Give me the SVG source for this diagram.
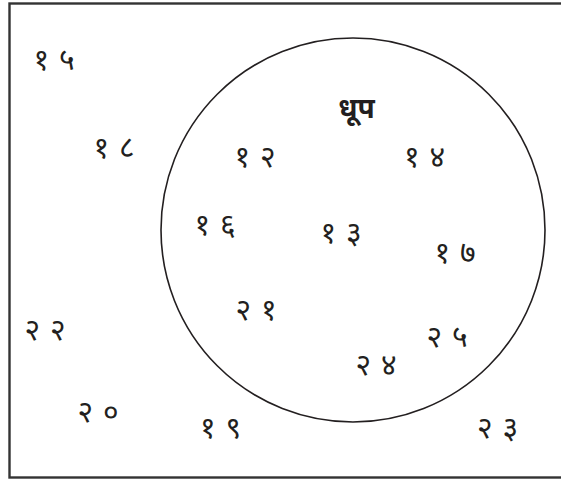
<svg xmlns="http://www.w3.org/2000/svg" width="561" height="480" viewBox="0 0 561 480">
<style>
.n{font-family:"Noto Sans","DejaVu Sans",sans-serif;font-size:30px;fill:#231f20;text-anchor:middle;letter-spacing:1px}
.t{font-family:"Noto Sans","DejaVu Sans",sans-serif;font-size:28px;font-weight:bold;fill:#231f20;text-anchor:middle}
</style>
<rect x="9.5" y="3.5" width="560" height="474" fill="#fff" stroke="#333" stroke-width="2.4"/>
<g id="set"><circle cx="353" cy="230" r="192" fill="none" stroke="#231f20" stroke-width="1.6"/><text class="t" x="356.5" y="118">धूप</text></g>
<g id="nums">
<text class="n" x="54.5" y="70">१ ५</text>
<text class="n" x="114.5" y="158">१ ८</text>
<text class="n" x="255.5" y="167">१ २</text>
<text class="n" x="425" y="167">१ ४</text>
<text class="n" x="215.5" y="235">१ ६</text>
<text class="n" x="341.5" y="243">१ ३</text>
<text class="n" x="455.5" y="263">१ ७</text>
<text class="n" x="256.5" y="320">२ १</text>
<text class="n" x="45.5" y="340">२ २</text>
<text class="n" x="447.5" y="347">२ ५</text>
<text class="n" x="376.5" y="375">२ ४</text>
<text class="n" x="98.5" y="422">२ ०</text>
<text class="n" x="221" y="438">१ ९</text>
<text class="n" x="498" y="438">२ ३</text>
</g>
</svg>
